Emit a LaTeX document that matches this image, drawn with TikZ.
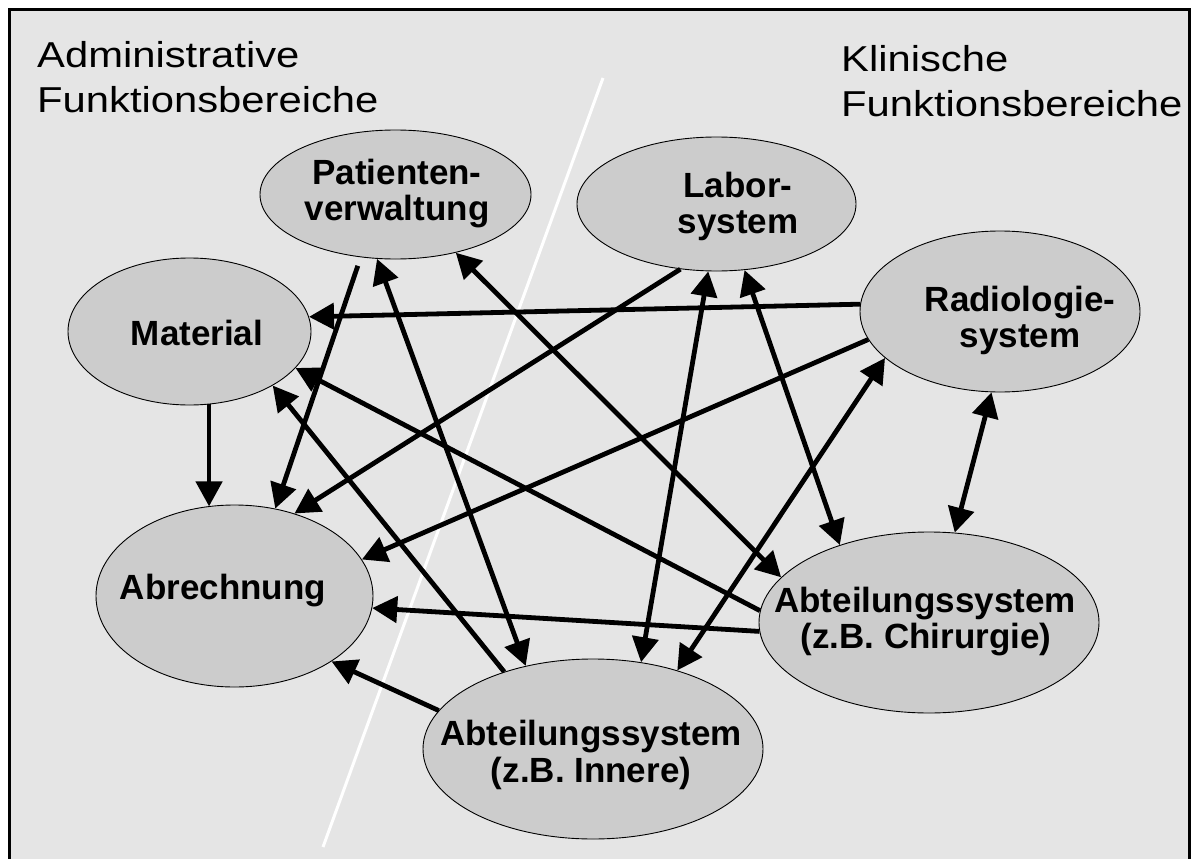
\documentclass[tikz,border=0pt]{standalone}
\usepackage{fontspec}
\setmainfont{Liberation Sans}
\usetikzlibrary{arrows.meta,shapes.geometric}
\definecolor{panel}{HTML}{E5E5E5}
\definecolor{bubble}{HTML}{CCCCCC}
\begin{document}
\begin{tikzpicture}[x=1pt,y=-1pt,
  sys/.style={ellipse, draw=black, line width=0.9pt, fill=bubble, inner sep=0pt},
  lbl/.style={anchor=base, font=\fontsize{35}{36}\selectfont\bfseries, inner sep=0pt},
  head/.style={anchor=base west, font=\fontsize{36}{40}\selectfont, inner sep=0pt},
  tip/.tip={Triangle[length=25pt,width=26pt]},
  link/.style={line width=4.8pt, -tip},
  both/.style={line width=4.8pt, tip-tip},
]
\useasboundingbox (0,0) rectangle (1197,859);
% panel with frame (lower edge runs off the page)
\begin{scope}
  \clip (0,0) rectangle (1197,859);
  \draw[fill=panel, line width=3pt] (9.5,9.5) rectangle (1189.5,880);
\end{scope}

% dividing line between the two areas
\coordinate (divtop) at (603,78);
\coordinate (divbot) at (323,847);
\draw[white, line width=3pt] (divtop) -- (divbot);

% area headings
\node[head] (adm1) at (37,68)  {\scalebox{1.16}[1]{Administrative}};
\node[head] (adm2) at (37,112) {\scalebox{1.16}[1]{Funktionsbereiche}};
\node[head] (kli1) at (841,71)  {\scalebox{1.16}[1]{Klinische}};
\node[head] (kli2) at (841,117) {\scalebox{1.16}[1]{Funktionsbereiche}};

% systems
\node[sys, minimum width=271pt, minimum height=129pt] (pat) at (395.5,194.5) {};
\node[sys, minimum width=279pt, minimum height=134pt] (lab) at (716.5,204) {};
\node[sys, minimum width=243pt, minimum height=147pt] (mat) at (189.5,331.5) {};
\node[sys, minimum width=280pt, minimum height=161pt] (rad) at (1000,311.5) {};
\node[sys, minimum width=277pt, minimum height=182pt] (abr) at (234.5,596) {};
\node[sys, minimum width=340pt, minimum height=181pt] (chi) at (929,622.5) {};
\node[sys, minimum width=340pt, minimum height=180pt] (inn) at (593,749) {};

% connections
\draw[link, shorten <=9pt] (pat.241.4) -- (abr.65.5);
\draw[both] (pat.254.7) -- (inn.129.3);
\draw[both] (pat.316) -- (chi.163.05);
\draw[link] (lab.241.2) -- (abr.54.2);
\draw[link] (rad.192.45) -- (abr.16.2);
\draw[link] (rad.177.2) -- (mat.7.1);
\draw[link] (mat.285.2) -- (mat.285.2 |- abr.107.2);
\draw[link] (chi.176.8) -- (mat.341.9);
\draw[link] (chi.183.5) -- (abr.355.4);
\draw[link] (inn.139.4) -- (mat.327.9);
\draw[link] (inn.166.9) -- (abr.326.7);
\draw[both] (lab.263.9) -- (inn.61.8);
\draw[both] (lab.293.5) -- (chi.139.9);
\draw[both] (rad.202) -- (inn.43.9);
\draw[both] (rad.264.4) -- (chi.74.3);

% labels
\node[lbl] (patA) at (397,184) {Patienten-};
\node[lbl] (patB) at (397,220) {verwaltung};
\node[lbl] (labA) at (738,197) {Labor-};
\node[lbl] (labB) at (738,233) {system};
\node[lbl] (matA) at (197,345) {Material};
\node[lbl] (radA) at (1020,311) {Radiologie-};
\node[lbl] (radB) at (1020,347) {system};
\node[lbl] (abrA) at (223,599) {Abrechnung};
\node[lbl] (chiA) at (925,612) {Abteilungssystem};
\node[lbl] (chiB) at (926,648) {(z.B. Chirurgie)};
\node[lbl] (innA) at (591,745) {Abteilungssystem};
\node[lbl] (innB) at (591,782) {(z.B. Innere)};
\end{tikzpicture}
\end{document}
